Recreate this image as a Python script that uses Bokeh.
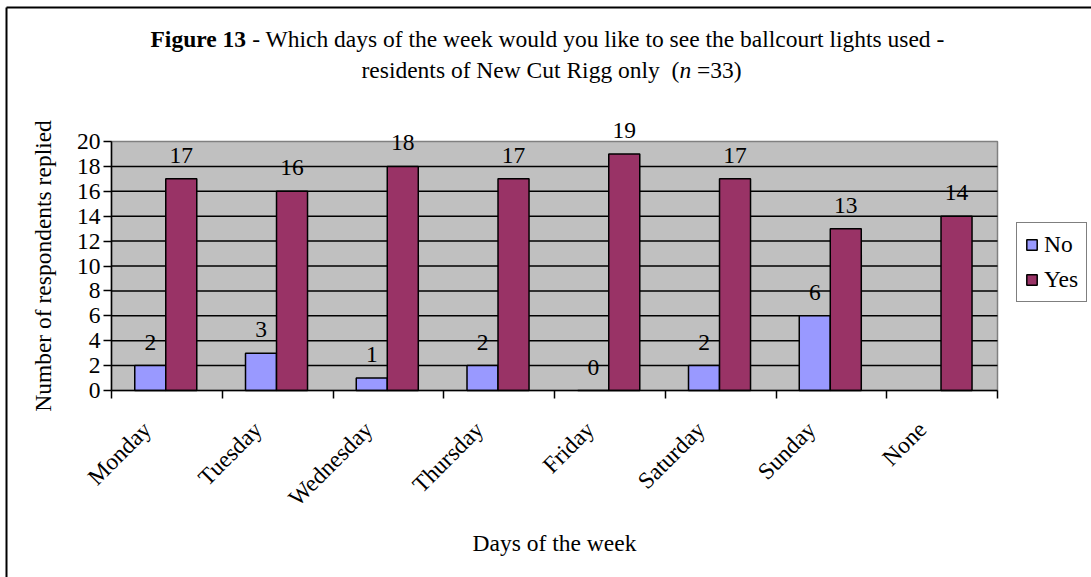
import math
from bokeh.plotting import figure
from bokeh.models import (Range1d, FixedTicker, LinearAxis, Label, LabelSet, Legend,
                          LegendItem, ColumnDataSource)
from bokeh.transform import dodge
from bokeh.embed import file_html
from bokeh.resources import INLINE

# ---------------- data ----------------
days = ["Monday", "Tuesday", "Wednesday", "Thursday", "Friday", "Saturday", "Sunday", "None"]
no_counts = [2, 3, 1, 2, 0, 2, 6, None]
yes_counts = [17, 16, 18, 17, 19, 17, 13, 14]
y_ticks = [0, 2, 4, 6, 8, 10, 12, 14, 16, 18, 20]
series_names = ["No", "Yes"]
title_bold = "Figure 13"
title_rest = "- Which days of the week would you like to see the ballcourt lights used -"
title_line2 = "residents of New Cut Rigg only"
n_label = "n"
n_value = "=33)"
x_title = "Days of the week"
y_title = "Number of respondents replied"

# ---------------- style / layout ----------------
FONT = "Liberation Serif"
FSPX = 23.5
FS = f"{FSPX}px"
NO_COLOR = "#9999FF"
YES_COLOR = "#993366"
PLOT_BG = "#C0C0C0"
W, H = 1091, 577
PL, PR, PT, PB = 111, 997, 141, 390      # plot-area edges in pixels
NCAT = len(days)
YMAX = 20
SHIFT = 0.18          # category label anchor shift (left of centre)
NO_OFF, YES_OFF, BAR_W = 0.35, 0.63, 0.28


def cx(px):
    return (px - PL) / (PR - PL) * NCAT


def cy(py):
    return (PB - py) / (PB - PT) * YMAX


src = ColumnDataSource(dict(
    idx=list(range(NCAT)),
    day=days,
    no=[float("nan") if v is None else v for v in no_counts],
    yes=yes_counts,
    no_lbl=["" if v is None else str(v) for v in no_counts],
    yes_lbl=[str(v) for v in yes_counts],
))

p = figure(width=W, height=H, x_range=Range1d(cx(0), cx(W)), y_range=Range1d(cy(H), cy(0)),
           x_axis_type=None, y_axis_type=None, output_backend="svg",
           toolbar_location=None, min_border=0,
           background_fill_color="white", border_fill_color="white",
           outline_line_color=None)
p.extra_x_ranges = {"lab": Range1d(cx(0) + SHIFT, cx(W) + SHIFT)}

# outer chart border (only top and left edges are inside the cropped picture)
p.segment(x0=[cx(6), cx(6)], y0=[cy(7), cy(7)], x1=[cx(W + 20), cx(6)], y1=[cy(7), cy(H + 20)],
          line_color="black", line_width=2)

# plot area + gridlines
p.quad(left=0, right=NCAT, bottom=0, top=YMAX, fill_color=PLOT_BG,
       line_color="#808080", line_width=1.5)
gy = y_ticks[1:-1]
p.segment(x0=[0] * len(gy), x1=[NCAT] * len(gy), y0=gy, y1=gy,
          line_color="black", line_width=1.5)

# bars
r_no = p.vbar(x=dodge("idx", NO_OFF), top="no", bottom=0, width=BAR_W, source=src,
              fill_color=NO_COLOR, line_color="black", line_width=1.5)
r_yes = p.vbar(x=dodge("idx", YES_OFF), top="yes", bottom=0, width=BAR_W, source=src,
               fill_color=YES_COLOR, line_color="black", line_width=1.5)

# y axis
yaxis = LinearAxis(ticker=FixedTicker(ticks=y_ticks), axis_label=y_title,
                   fixed_location=0, bounds=(0, YMAX))
yaxis.axis_line_color = "black"
yaxis.axis_line_width = 1.5
yaxis.major_tick_out = 8
yaxis.major_tick_in = 0
yaxis.minor_tick_out = 0
yaxis.minor_tick_in = 0
yaxis.major_tick_line_color = "black"
yaxis.major_tick_line_width = 1.5
yaxis.major_label_standoff = 3
yaxis.major_label_text_font = FONT
yaxis.major_label_text_font_size = FS
yaxis.major_label_text_color = "black"
yaxis.axis_label_text_font = FONT
yaxis.axis_label_text_font_size = FS
yaxis.axis_label_text_font_style = "normal"
yaxis.axis_label_text_color = "black"
yaxis.axis_label_standoff = 18
p.add_layout(yaxis, "left")

# x axis (labels at category centres, ticks at category boundaries)
xaxis = LinearAxis(x_range_name="lab",
                   ticker=FixedTicker(ticks=[i + 0.5 for i in range(NCAT)],
                                      minor_ticks=[i + SHIFT for i in range(NCAT + 1)]),
                   major_label_overrides={i + 0.5: d for i, d in enumerate(days)},
                   axis_label=x_title, fixed_location=0, bounds=(SHIFT, NCAT + SHIFT))
xaxis.axis_line_color = "black"
xaxis.axis_line_width = 1.5
xaxis.major_tick_out = 0
xaxis.major_tick_in = 0
xaxis.major_tick_line_color = None
xaxis.minor_tick_out = 8
xaxis.minor_tick_in = 0
xaxis.minor_tick_line_color = "black"
xaxis.minor_tick_line_width = 1.5
xaxis.major_label_orientation = math.pi / 4
xaxis.major_label_standoff = 27
xaxis.major_label_text_font = FONT
xaxis.major_label_text_font_size = FS
xaxis.major_label_text_color = "black"
xaxis.axis_label_text_font = FONT
xaxis.axis_label_text_font_size = FS
xaxis.axis_label_text_font_style = "normal"
xaxis.axis_label_text_color = "black"
xaxis.axis_label_standoff = 7
p.add_layout(xaxis, "below")

# data labels
for col, off in (("no", NO_OFF), ("yes", YES_OFF)):
    ls = LabelSet(x=dodge("idx", off), y=col, text=col + "_lbl", source=src,
                  text_align="center", text_baseline="alphabetic", y_offset=16,
                  text_font=FONT, text_font_size=FS, text_color="black")
    p.add_layout(ls)

# legend
legend = Legend(items=[LegendItem(label=series_names[0], renderers=[r_no]),
                       LegendItem(label=series_names[1], renderers=[r_yes])],
                location=(1016, H - 302), border_line_color="black", border_line_width=1.5,
                background_fill_color="white", background_fill_alpha=1.0,
                label_text_font=FONT, label_text_font_size=FS, label_text_color="black",
                glyph_width=13, glyph_height=13, label_standoff=6, padding=8,
                spacing=8, margin=0)
p.add_layout(legend)


# title
def tlabel(px, py, text, style="normal"):
    p.add_layout(Label(x=cx(px), y=cy(py), text=text, text_align="left",
                       text_baseline="middle", text_font=FONT, text_font_size=FS,
                       text_font_style=style, text_color="black"))


T1X, T1Y = 150, 38
tlabel(T1X, T1Y, title_bold, "bold")
tlabel(T1X + 4.333 * FSPX, T1Y, title_rest)
T2X, T2Y = 361, 69
tlabel(T2X, T2Y, title_line2)
tlabel(T2X + 13.194 * FSPX, T2Y, "(")
tlabel(T2X + 13.527 * FSPX, T2Y, n_label, "italic")
tlabel(T2X + 14.277 * FSPX, T2Y, n_value)

open("out.html", "w").write(file_html(p, INLINE))
